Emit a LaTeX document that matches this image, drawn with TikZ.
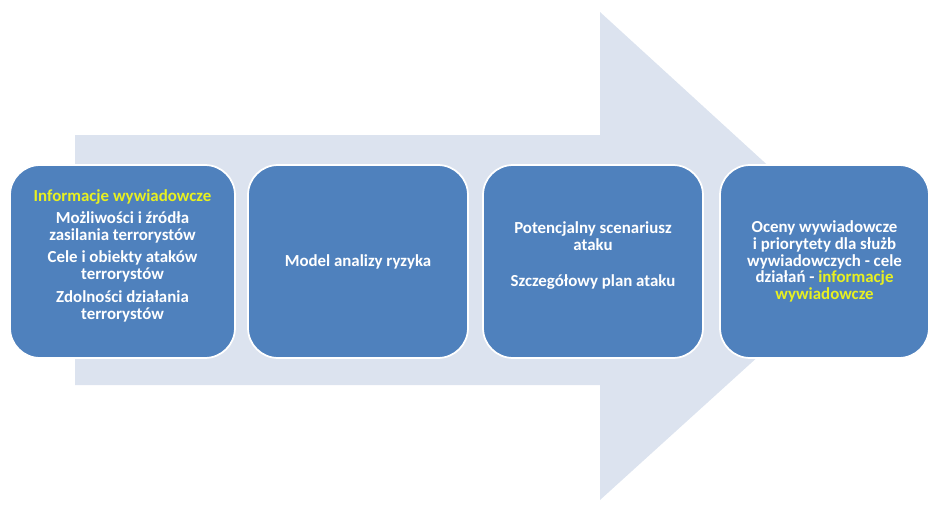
\documentclass[tikz,border=0pt]{standalone}
\usepackage{fontspec}
\setmainfont{Carlito}
\usepackage{tikz}
\usepackage{xcolor}
\usetikzlibrary{shapes, positioning}

\definecolor{boxblue}{HTML}{4F81BD}
\definecolor{arrowgrey}{HTML}{DCE3EF}
\definecolor{hilite}{HTML}{E8F020}

\tikzset{
    stage/.style={rectangle, rounded corners=0.6cm, draw=white, line width=1pt,
        fill=boxblue, text=white, font=\bfseries\fontsize{9.6}{9.6}\selectfont,
        align=center, minimum height=3.86cm, inner sep=2pt}
}

\begin{document}
\begin{tikzpicture}[x=0.02cm, y=0.02cm]
        \useasboundingbox (0, 0) rectangle (931, 505);

        % big background arrow
        \fill[arrowgrey] (75, 120) -- (600, 120) -- (600, 5) -- (868, 248)
            -- (600, 493) -- (600, 370) -- (75, 370) -- cycle;

        \node[stage, minimum width=4.5cm] (info) at (122.5, 243.5)
            {\textcolor{hilite}{Informacje wywiadowcze}\\[3pt]
             Możliwości i źródła\\ zasilania terrorystów\\[3pt]
             Cele i obiekty ataków\\ terrorystów\\[3.5pt]
             Zdolności działania\\ terrorystów\\[-2pt]};
        \node[stage, minimum width=4.4cm] (model) at (358, 243.5)
            {Model analizy ryzyka};
        \node[stage, minimum width=4.4cm] (scen) at (593, 243.5)
            {Potencjalny scenariusz\\ ataku\\[11pt]
             Szczegółowy plan ataku\\[-1pt]};
        \node[stage, minimum width=4.18cm] (ocena) at (824.5, 243.5)
            {Oceny wywiadowcze\\ i priorytety dla służb\\ wywiadowczych - cele\\
             działań - \textcolor{hilite}{informacje}\\
             \textcolor{hilite}{wywiadowcze}};
    \end{tikzpicture}
\end{document}
